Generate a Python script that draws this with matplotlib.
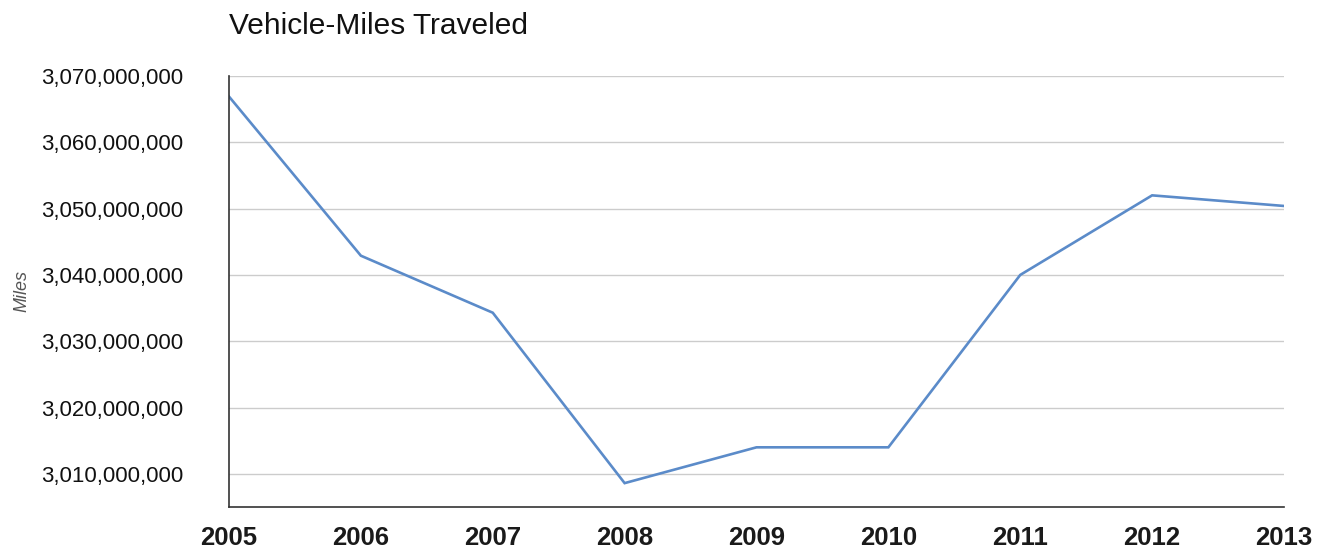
import matplotlib
matplotlib.use("Agg")
import matplotlib.pyplot as plt
from matplotlib.ticker import FuncFormatter

# Vehicle-miles traveled per year
years = [2005, 2006, 2007, 2008, 2009, 2010, 2011, 2012, 2013]
miles = [3066.9e6, 3042.9e6, 3034.3e6, 3008.6e6, 3014.0e6, 3014.0e6, 3040.0e6, 3052.0e6, 3050.4e6]
y_ticks = [3010e6, 3020e6, 3030e6, 3040e6, 3050e6, 3060e6, 3070e6]

plt.rcParams['font.family'] = ['Liberation Sans', 'DejaVu Sans']

fig = plt.figure(figsize=(13.19, 5.5), dpi=100)
ax = fig.add_axes([229/1319, 1 - 507/550, (1284 - 229)/1319, (507 - 76)/550])

ax.plot(years, miles, color='#5b8bc9', linewidth=1.9, solid_joinstyle='miter')

ax.set_xlim(2005, 2013)
ax.set_ylim(3005e6, 3070e6)
ax.set_xticks(years)
ax.set_yticks(y_ticks)
ax.yaxis.set_major_formatter(FuncFormatter(lambda v, p: f"{v:,.0f}"))

ax.grid(axis='y', color='#cccccc', linewidth=1)
ax.set_axisbelow(True)
for s in ['top', 'right']:
    ax.spines[s].set_visible(False)
for s in ['left', 'bottom']:
    ax.spines[s].set_color('#333333')
    ax.spines[s].set_linewidth(1.2)

ax.tick_params(axis='both', length=0)
ax.tick_params(axis='y', pad=33, labelsize=16, labelcolor='#111111')
ax.tick_params(axis='x', pad=14, labelsize=18.5, labelcolor='#1a1a1a')
for lbl in ax.get_xticklabels():
    lbl.set_fontweight('bold')

ax.set_ylabel('Miles', fontsize=13, style='italic', color='#555555')
ax.yaxis.set_label_coords(-0.188, 0.5)

fig.text(229/1319, 1 - 26/550, 'Vehicle-Miles Traveled', fontsize=21.5, color='#111111',
         ha='left', va='center')

fig.savefig('out.png', dpi=100, facecolor='white')
